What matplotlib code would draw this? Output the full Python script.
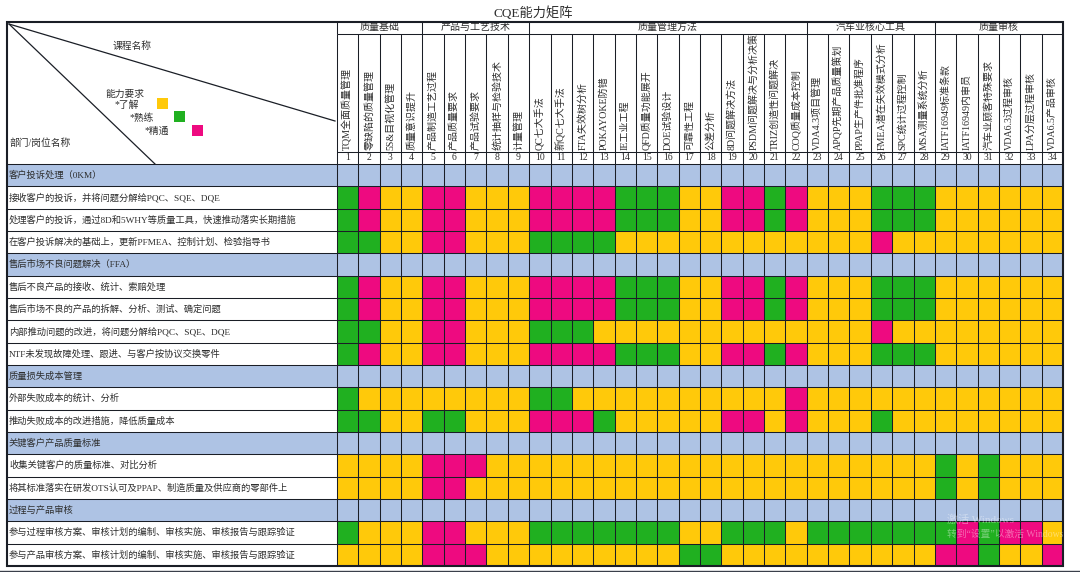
import matplotlib
matplotlib.use('Agg')
import matplotlib.pyplot as plt
from matplotlib.colors import ListedColormap
from matplotlib.lines import Line2D
from matplotlib.patches import Rectangle
from matplotlib.transforms import Bbox, TransformedBbox
import numpy as np

plt.rcParams['font.family'] = ['Liberation Serif', 'Noto Sans CJK SC', 'DejaVu Sans']

title = 'CQE能力矩阵'

groups = ['质量基础', '产品与工艺技术', '质量管理方法', '汽车业核心工具', '质量审核']
group_sizes = [4, 5, 13, 6, 6]

courses = [
    'TQM全面质量管理', '零缺陷的质量管理', '5S&目视化管理', '质量意识提升',
    '产品制造工艺过程', '产品质量要求', '产品试验要求', '统计抽样与检验技术', '计量管理',
    'QC七大手法', '新QC七大手法', 'FTA失效树分析', 'POKAYOKE防错', 'IE工业工程',
    'QFD质量功能展开', 'DOE试验设计', '可靠性工程', '公差分析', '8D问题解决方法',
    'PSDM问题解决与分析决策', 'TRIZ创造性问题解决', 'COQ质量成本控制',
    'VDA4.3项目管理', 'APQP先期产品质量策划', 'PPAP生产件批准程序',
    'FMEA潜在失效模式分析', 'SPC统计过程控制', 'MSA测量系统分析',
    'IATF16949标准条款', 'IATF16949内审员', '汽车业顾客特殊要求',
    'VDA6.3过程审核', 'LPA分层过程审核', 'VDA6.5产品审核',
]

row_labels = [
    '客户投诉处理（0KM）',
    '接收客户的投诉，并将问题分解给PQC、SQE、DQE',
    '处理客户的投诉，通过8D和5WHY等质量工具，快速推动落实长期措施',
    '在客户投诉解决的基础上，更新PFMEA、控制计划、检验指导书',
    '售后市场不良问题解决（FFA）',
    '售后不良产品的接收、统计、索赔处理',
    '售后市场不良的产品的拆解、分析、测试、确定问题',
    '内部推动问题的改进，将问题分解给PQC、SQE、DQE',
    'NTF未发现故障处理、跟进、与客户按协议交换零件',
    '质量损失成本管理',
    '外部失败成本的统计、分析',
    '推动失败成本的改进措施，降低质量成本',
    '关键客户产品质量标准',
    '收集关键客户的质量标准、对比分析',
    '将其标准落实在研发OTS认可及PPAP、制造质量及供应商的零部件上',
    '过程与产品审核',
    '参与过程审核方案、审核计划的编制、审核实施、审核报告与跟踪验证',
    '参与产品审核方案、审核计划的编制、审核实施、审核报告与跟踪验证',
]

# B 分类行, Y 了解, G 熟练, P 精通 (按课程分组写, 空格只是为了好看)
section = 'BBBB BBBBB BBBBBBBBBBBBB BBBBBB BBBBBB'
full = 'GPYY PPYYY PPPPGGGYYPPGP YYYGGG YYYYYY'
levels = [
    section,
    full,
    full,
    'GGYY PPYYY GGGGYYYYYYYYY YYYPYY YYYYYY',
    section,
    full,
    full,
    'GGYY PPYYY GGGYYYYYYYYYY YYYPYY YYYYYY',
    full,
    section,
    'GYYY YYYYY GGYYYYYYYYYYP YYYYYY YYYYYY',
    'GGYY GGYYY PPPGYYYYYPPYP YYYGYY YYYYYY',
    section,
    'YYYY PPPYY YYYYYYYYYYYYY YYYYYY GYGYYY',
    'YYYY PPYYY YYYYYYYYYYYYY YYYYYY GYGYYY',
    section,
    'GYYY PPYYY GGGGGGGYYGGGY GGGGGG GPGPPY',
    'YYYY PPPYY YYYYYYYGGYYYY YYYYYY PPGYYP',
]

legend_title = '能力要求'
legend_names = ['*了解', '*熟练', '*精通']

BLUE = '#aec3e4'
YELLOW = '#ffc90a'
GREEN = '#20b020'
PINK = '#ee0a80'
LINE = '#1a1e26'
TEXT = '#2e2e2e'

# 表格在图里的像素位置
LEFT, RIGHT, TOP, BOTTOM = 7, 1063, 22, 566
CELL_LEFT, CELL_TOP = 337, 164
n_cols, n_rows = len(courses), len(levels)
cw = (RIGHT - CELL_LEFT) / n_cols
rh = (BOTTOM - CELL_TOP) / n_rows


def px(x):
    return (x - CELL_LEFT) / cw


def py(y):
    return (y - CELL_TOP) / rh


fig = plt.figure(figsize=(10.8, 5.72), dpi=100, facecolor='white')
ax = fig.add_axes([LEFT / 1080, 1 - BOTTOM / 572, (RIGHT - LEFT) / 1080, (BOTTOM - TOP) / 572])
ax.set_xlim(px(LEFT), n_cols)
ax.set_ylim(n_rows, py(TOP))
ax.axis('off')

# 矩阵
codes = {'B': 0, 'Y': 1, 'G': 2, 'P': 3}
matrix = np.array([[codes[c] for c in row.replace(' ', '')] for row in levels])
cmap = ListedColormap([BLUE, YELLOW, GREEN, PINK])
ax.pcolormesh(np.arange(n_cols + 1), np.arange(n_rows + 1), matrix, cmap=cmap, vmin=0, vmax=3,
              zorder=1)

# 左侧标签列
section_rows = [i for i, row in enumerate(levels) if row == section]
ax.barh(np.array(section_rows) + 0.5, -px(LEFT), left=px(LEFT), height=1, color=BLUE, zorder=1)

# 网格线
GRID_LW = 0.75
ax.hlines(np.arange(n_rows + 1), px(LEFT), n_cols, color=LINE, lw=GRID_LW, zorder=3)
ax.vlines(np.arange(n_cols + 1), 0, n_rows, color=LINE, lw=GRID_LW, zorder=3)

for i, label in enumerate(row_labels):
    ax.text(px(9), i + 0.5, label, fontsize=6.7, color=TEXT, va='center', ha='left', zorder=4)

# 表头
head_line = py(34)
num_line = py(152)
ax.hlines([head_line, num_line], 0, n_cols, color=LINE, lw=GRID_LW)
ax.vlines(np.arange(n_cols + 1), head_line, 0, color=LINE, lw=GRID_LW)

start = 0
for name, size in zip(groups, group_sizes):
    ax.vlines(start, py(TOP), head_line, color=LINE, lw=GRID_LW)
    ax.text(start + size / 2, (py(TOP) + head_line) / 2 - 0.02, name, fontsize=7.2, color=TEXT,
            ha='center', va='center')
    start += size

for j, course in enumerate(courses):
    ax.text(j + 0.5, (num_line + 0) / 2, str(j + 1), fontsize=7, color=TEXT, ha='center', va='center')
    t = ax.text(j + 0.5, py(150), course, fontsize=7.2, color=TEXT, rotation=90,
                ha='center', va='bottom')
    # PSDM 那一列原图顶部被单元格切掉了
    t.set_clip_box(TransformedBbox(Bbox([[j, head_line], [j + 1, 0]]), ax.transData))
    t.set_clip_on(True)

# 左上角斜线和图例
ax.plot([px(9), px(335)], [py(24), py(121)], color=LINE, lw=0.9)
ax.plot([px(9), px(155)], [py(24), py(164)], color=LINE, lw=0.9)
ax.text(px(132), py(46), '课程名称', fontsize=7, color=TEXT, ha='center', va='center')
ax.text(px(10), py(143), '部门/岗位名称', fontsize=7, color=TEXT, ha='left', va='center')
ax.text(px(125), py(94), legend_title, fontsize=7, color=TEXT, ha='center', va='center')

legend_text_pos = [(127, 105), (142, 118), (157, 131)]
legend_box_pos = [(157, 98), (174, 111), (192, 125)]
for name, (tx, ty), (bx, by), col in zip(legend_names, legend_text_pos, legend_box_pos,
                                         [YELLOW, GREEN, PINK]):
    ax.text(px(tx), py(ty), name, fontsize=7, color=TEXT, ha='center', va='center')
    ax.add_patch(Rectangle((px(bx), py(by)), 11 / cw, 11 / rh, color=col, lw=0))

# 外框
ax.add_patch(Rectangle((px(LEFT), py(TOP)), n_cols - px(LEFT), n_rows - py(TOP), fill=False,
                       ec=LINE, lw=1.5, clip_on=False, zorder=5))

fig.text(533 / 1080, 1 - 13 / 572, title, fontsize=9.5, color=TEXT, ha='center', va='center')

# 截图带进来的水印和底边
fig.text(947 / 1080, 1 - 520 / 572, '激活 Windows', fontsize=8, color='white', alpha=0.4,
         ha='left', va='center')
fig.text(947 / 1080, 1 - 534 / 572, '转到“设置”以激活 Windows', fontsize=7, color='white', alpha=0.4,
         ha='left', va='center')
fig.add_artist(Line2D([0, 1], [1 - 571 / 572, 1 - 571 / 572], color='#3a3f4a', lw=1))

fig.savefig('out.png', dpi=100, facecolor='white')
